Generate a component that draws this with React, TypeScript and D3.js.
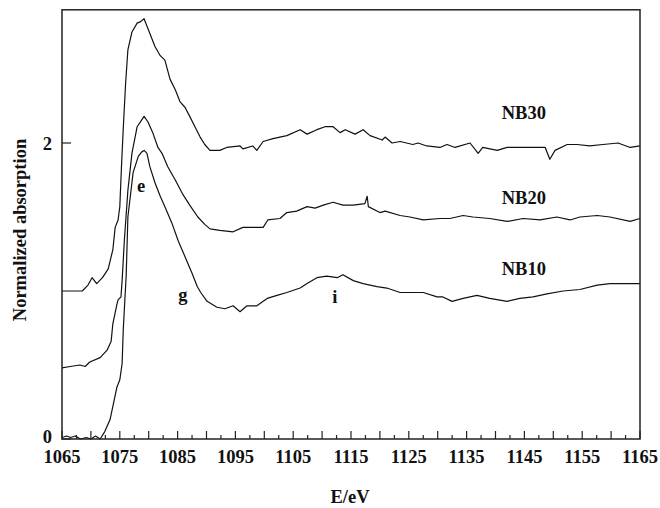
import React from "react";
import * as d3 from "d3";

// Energy (eV), normalized absorption
const nb30: [number, number][] = [
  [1065, 1.0], [1066.5, 1.0], [1068.5, 1.0], [1069.5, 1.04], [1070.2, 1.09], [1071.0, 1.05],
  [1072.0, 1.09], [1073.0, 1.15], [1073.8, 1.28], [1074.2, 1.43], [1074.7, 1.48], [1075.0, 1.57],
  [1075.3, 1.85], [1075.6, 2.1], [1076.0, 2.4], [1076.4, 2.63], [1077.1, 2.75], [1078.0, 2.81],
  [1078.6, 2.82], [1079.2, 2.84], [1080.2, 2.74], [1081.1, 2.65], [1082.0, 2.59], [1082.8, 2.56],
  [1083.7, 2.43], [1084.6, 2.36], [1085.4, 2.28], [1086.3, 2.24], [1087.1, 2.18], [1088.0, 2.11],
  [1088.9, 2.04], [1089.7, 1.99], [1090.6, 1.95], [1092.3, 1.95], [1093.5, 1.97], [1095.8, 1.98],
  [1096.3, 1.96], [1098.0, 1.98], [1098.7, 1.95], [1099.8, 2.01], [1101.5, 2.03], [1103.9, 2.05],
  [1106.2, 2.09], [1107.4, 2.06], [1109.1, 2.09], [1110.5, 2.11], [1111.9, 2.11], [1113.1, 2.07],
  [1114.0, 2.09], [1115.7, 2.06], [1117.1, 2.09], [1118.3, 2.05], [1120.4, 2.02], [1120.9, 2.04],
  [1122.1, 2.0], [1123.5, 2.01], [1125.7, 1.99], [1126.6, 2.0], [1128.1, 1.98], [1130.4, 1.97],
  [1131.6, 1.99], [1133.0, 1.97], [1135.6, 2.0], [1137.0, 1.93], [1137.8, 1.97], [1140.3, 1.95],
  [1142.0, 1.97], [1144.2, 1.97], [1148.6, 1.97], [1149.4, 1.89], [1150.3, 1.95], [1152.4, 1.99],
  [1154.1, 1.99], [1156.3, 1.98], [1158.6, 1.99], [1161.2, 2.0], [1163.3, 1.97], [1165, 1.98],
];

const nb20: [number, number][] = [
  [1065, 0.48], [1066.4, 0.49], [1068.1, 0.5], [1069.0, 0.49], [1069.8, 0.52], [1071.6, 0.55],
  [1072.8, 0.6], [1073.5, 0.66], [1073.8, 0.78], [1074.5, 0.91], [1074.7, 0.94], [1075.2, 0.96],
  [1075.4, 1.07], [1075.8, 1.35], [1076.4, 1.68], [1077.1, 1.93], [1078.0, 2.11], [1079.2, 2.18],
  [1079.9, 2.14], [1080.7, 2.07], [1081.6, 1.97], [1082.3, 1.93], [1083.3, 1.84], [1084.6, 1.75],
  [1085.8, 1.66], [1087.1, 1.58], [1088.5, 1.5], [1089.7, 1.45], [1090.6, 1.42], [1092.3, 1.41],
  [1094.6, 1.4], [1096.3, 1.43], [1098.7, 1.43], [1099.8, 1.43], [1100.6, 1.48], [1102.7, 1.49],
  [1103.9, 1.53], [1105.6, 1.54], [1107.4, 1.57], [1108.8, 1.56], [1110.2, 1.58], [1111.9, 1.6],
  [1113.6, 1.58], [1115.4, 1.58], [1117.4, 1.59], [1117.8, 1.64], [1118.0, 1.57], [1120.0, 1.53],
  [1120.9, 1.54], [1123.5, 1.51], [1125.2, 1.5], [1127.5, 1.48], [1130.4, 1.49], [1132.1, 1.49],
  [1134.4, 1.51], [1136.1, 1.5], [1139.0, 1.49], [1142.0, 1.47], [1144.8, 1.49], [1147.7, 1.48],
  [1150.6, 1.5], [1152.9, 1.48], [1154.6, 1.5], [1157.6, 1.51], [1159.8, 1.5], [1163.3, 1.47],
  [1165, 1.49],
];

const nb10: [number, number][] = [
  [1065, 0.01], [1065.8, 0.02], [1066.5, 0.01], [1067.3, 0.02], [1068.2, 0.0], [1069.2, 0.01],
  [1070.0, 0.0], [1070.8, 0.02], [1071.6, 0.0], [1072.4, 0.05], [1073.3, 0.13], [1073.8, 0.22],
  [1074.5, 0.35], [1075.0, 0.4], [1075.4, 0.51], [1075.6, 0.74], [1075.9, 0.96], [1076.1, 1.1],
  [1076.4, 1.5], [1077.3, 1.8], [1078.2, 1.91], [1078.8, 1.94], [1079.2, 1.95], [1079.7, 1.93],
  [1080.2, 1.84], [1081.1, 1.73], [1082.0, 1.64], [1082.8, 1.57], [1084.0, 1.46], [1085.1, 1.34],
  [1086.3, 1.23], [1087.5, 1.12], [1088.4, 1.03], [1089.0, 0.99], [1090.1, 0.93], [1091.8, 0.89],
  [1093.2, 0.88], [1094.6, 0.9], [1095.8, 0.86], [1097.0, 0.9], [1098.7, 0.9], [1100.5, 0.95],
  [1102.2, 0.97], [1103.9, 0.99], [1106.2, 1.02], [1107.4, 1.05], [1109.1, 1.09], [1110.8, 1.1],
  [1112.6, 1.09], [1113.6, 1.11], [1115.4, 1.07], [1117.1, 1.05], [1119.5, 1.03], [1121.2, 1.02],
  [1123.5, 0.99], [1125.2, 0.99], [1127.5, 0.99], [1129.9, 0.96], [1130.9, 0.96], [1132.5, 0.93],
  [1134.4, 0.95], [1136.8, 0.97], [1139.0, 0.95], [1142.0, 0.93], [1144.2, 0.95], [1146.5, 0.96],
  [1148.9, 0.98], [1151.7, 1.0], [1154.6, 1.01], [1157.6, 1.04], [1159.8, 1.05], [1162.7, 1.05],
  [1165, 1.05],
];

const xTickLabels = [1065, 1075, 1085, 1095, 1105, 1115, 1125, 1135, 1145, 1155, 1165];
const yTickLabels = [0, 2];
const seriesLabels = [
  { text: "NB30", x: 1144.9, y: 2.16 },
  { text: "NB20", x: 1144.9, y: 1.59 },
  { text: "NB10", x: 1144.9, y: 1.11 },
];
const peakLabels = [
  { text: "e", x: 1078.7, y: 1.67 },
  { text: "g", x: 1085.9, y: 0.93 },
  { text: "i", x: 1112.2, y: 0.92 },
];

const W = 660, H = 508;
const L = 62, R = 640, T = 9.8, B = 439;
const FONT = "'Liberation Serif', 'Times New Roman', serif";

export default function App() {
  const x = d3.scaleLinear().domain([1065, 1165]).range([L, R]);
  const y = d3.scaleLinear().domain([0, 2.9]).range([B, B - 2.9 * 148]);
  const line = d3.line<[number, number]>().x((d) => x(d[0])).y((d) => y(d[1]));
  const minor = d3.range(1065, 1165.01, 2.5);

  return (
    <svg width={W} height={H} style={{ position: "absolute", left: 0, top: 0, background: "#fff" }}
      fontFamily={FONT} fontWeight="bold">
      <defs>
        <clipPath id="plot"><rect x={L} y={T} width={R - L} height={B - T + 1} /></clipPath>
      </defs>
      <rect x={0} y={0} width={W} height={H} fill="#fff" />
      <g clipPath="url(#plot)" fill="none" stroke="#111" strokeWidth={1.2} strokeLinejoin="round">
        {[nb30, nb20, nb10].map((s, i) => <path key={i} d={line(s) ?? ""} />)}
      </g>
      <g stroke="#222" strokeWidth={1.2}>
        {minor.map((v, i) => {
          const major = Math.abs((v - 1065) % 5) < 1e-6;
          return <line key={i} x1={x(v)} x2={x(v)} y1={B} y2={B - (major ? 8 : 4)} />;
        })}
        {yTickLabels.map((v) => <line key={v} x1={L} x2={L + 9} y1={y(v)} y2={y(v)} />)}
      </g>
      <rect x={L} y={T} width={R - L} height={B - T} fill="none" stroke="#222" strokeWidth={1.5} />
      <g fontSize={18.5} fill="#111">
        {xTickLabels.map((v) => (
          <text key={v} x={x(v)} y={463} textAnchor="middle">{v}</text>
        ))}
        {yTickLabels.map((v) => (
          <text key={v} x={52} y={y(v) + (v === 0 ? 4 : 6.5)} textAnchor="end">{v}</text>
        ))}
        {seriesLabels.map((s) => (
          <text key={s.text} x={x(s.x)} y={y(s.y)} textAnchor="middle">{s.text}</text>
        ))}
        {peakLabels.map((s) => (
          <text key={s.text} x={x(s.x)} y={y(s.y)} textAnchor="middle">{s.text}</text>
        ))}
        <text x={350} y={503} textAnchor="middle">E/eV</text>
        <text transform="translate(26,230) rotate(-90)" textAnchor="middle">Normalized absorption</text>
      </g>
    </svg>
  );
}
